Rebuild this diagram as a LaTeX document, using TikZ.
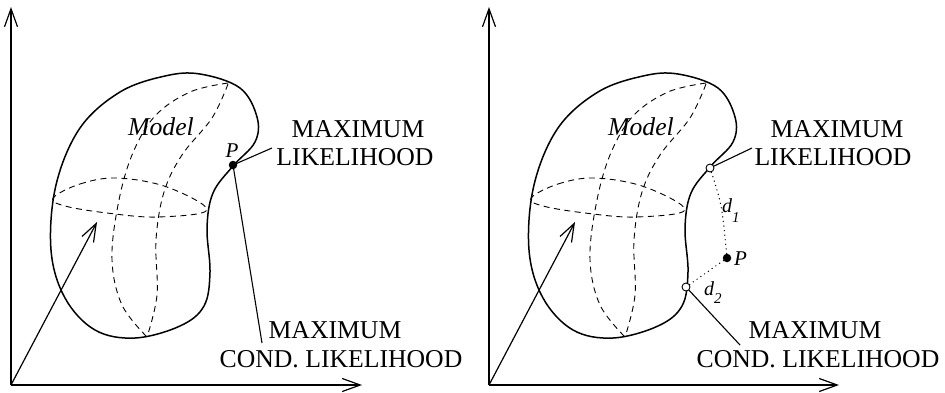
\documentclass[tikz,border=0pt]{standalone}
\usepackage{fontspec}
\setmainfont{Liberation Serif}
\usetikzlibrary{arrows.meta}
\tikzset{
  outline/.style={line width=1.5pt},
  meridian/.style={line width=0.9pt, dash pattern=on 6pt off 4.5pt},
  axis/.style={line width=1.2pt, -{Straight Barb[length=18pt,width=13pt]}},
  leader/.style={line width=1.1pt},
  dist/.style={line width=1.4pt, dash pattern=on 0pt off 4.6pt, line cap=round},
  big/.style={font=\fontsize{25.7}{29}\selectfont, inner sep=0pt},
  lab/.style={font=\fontsize{21}{24}\selectfont\itshape, inner sep=0pt},
  dlab/.style={font=\fontsize{20}{22}\selectfont\itshape, inner sep=0pt},
  dot/.style={circle, fill=black, inner sep=0pt, minimum size=8.5pt},
  hollow/.style={circle, draw=black, fill=white, line width=0.9pt, inner sep=0pt, minimum size=8pt},
}
\begin{document}
\begin{tikzpicture}[x=1pt, y=-1pt]
\useasboundingbox (0,0) rectangle (945,392);

% ---------- shapes repeated in both panels ----------
\foreach \dx in {0,478}{
\begin{scope}[xshift=\dx pt]
  \draw[outline] plot[smooth cycle, tension=0.6] coordinates {
    (200,74) (240,88) (257,117) (255,142) (233,166) (213,193) (207,228)
    (210,272) (204,306) (180,326) (135,338) (95,330) (65,298) (51,250)
    (56,185) (80,128) (120,92) (165,76)};
  \draw[meridian] plot[smooth cycle, tension=0.6] coordinates {
    (53,198) (80,184) (117,178) (167,187) (207,210) (157,217) (107,213) (65,206)};
  \draw[meridian] plot[smooth, tension=0.6] coordinates {
    (228,83) (190,92) (155,116) (132,155) (118,205) (112,260) (122,305) (147,337)};
  \draw[meridian] plot[smooth, tension=0.6] coordinates {
    (228,84) (212,118) (182,155) (164,192) (156,240) (157,295) (147,337)};
\end{scope}
}

% ---------- left panel ----------
\coordinate (O1) at (11,385);
\coordinate (Y1) at (11,7);
\coordinate (X1) at (362,385);
\coordinate (D1) at (97,222);
\draw[axis] (O1) -- (Y1);
\draw[axis] (O1) -- (X1);
\draw[axis] (O1) -- (D1);

\node[big, anchor=base] (modelL) at (161,135) {\itshape Model};
\node[lab, anchor=base] (pL) at (232,157) {P};
\node[big, anchor=base] (mlA) at (358,137) {MAXIMUM};
\node[big, anchor=base] (mlB) at (355,165) {LIKELIHOOD};
\node[big, anchor=base] (mcA) at (335,338) {MAXIMUM};
\node[big, anchor=base] (mcB) at (341,367) {COND. LIKELIHOOD};
\coordinate (lendA) at (272,148);
\coordinate (lendB) at (262,343);
\coordinate (PLc) at (233,165);
\draw[leader] (PLc) -- (lendA);
\draw[leader] (PLc) -- (lendB);
\node[dot] (PL) at (PLc) {};

% ---------- right panel ----------
\coordinate (O2) at (489,385);
\coordinate (Y2) at (489,7);
\coordinate (X2) at (839,385);
\coordinate (D2) at (575,222);
\draw[axis] (O2) -- (Y2);
\draw[axis] (O2) -- (X2);
\draw[axis] (O2) -- (D2);

\node[big, anchor=base] (modelR) at (641,135) {\itshape Model};
\node[big, anchor=base] (mrA) at (837,137) {MAXIMUM};
\node[big, anchor=base] (mrB) at (833,165) {LIKELIHOOD};
\node[big, anchor=base] (mrC) at (815,338) {MAXIMUM};
\node[big, anchor=base] (mrD) at (818,367) {COND. LIKELIHOOD};
\coordinate (rendA) at (752,148);
\coordinate (rendB) at (740,345);
\coordinate (C1c) at (710,168);
\coordinate (C2c) at (686,287);
\node[dot] (PR) at (727,258) {};
\draw[leader] (C1c) -- (rendA);
\draw[leader] (C2c) -- (rendB);
\draw[dist] (C1c) .. controls (722,205) .. (PR);
\draw[dist] (PR) -- (C2c);
\node[hollow] (C1) at (C1c) {};
\node[hollow] (C2) at (C2c) {};
\node[lab, anchor=base west] (pR) at (734,265) {P};
\node[dlab, anchor=base west] (d1) at (722,212) {d\raisebox{-10pt}{\fontsize{15}{15}\selectfont 1}};
\node[dlab, anchor=base west] (d2) at (704,295) {d\raisebox{-8pt}{\fontsize{15}{15}\selectfont 2}};
\end{tikzpicture}
\end{document}
